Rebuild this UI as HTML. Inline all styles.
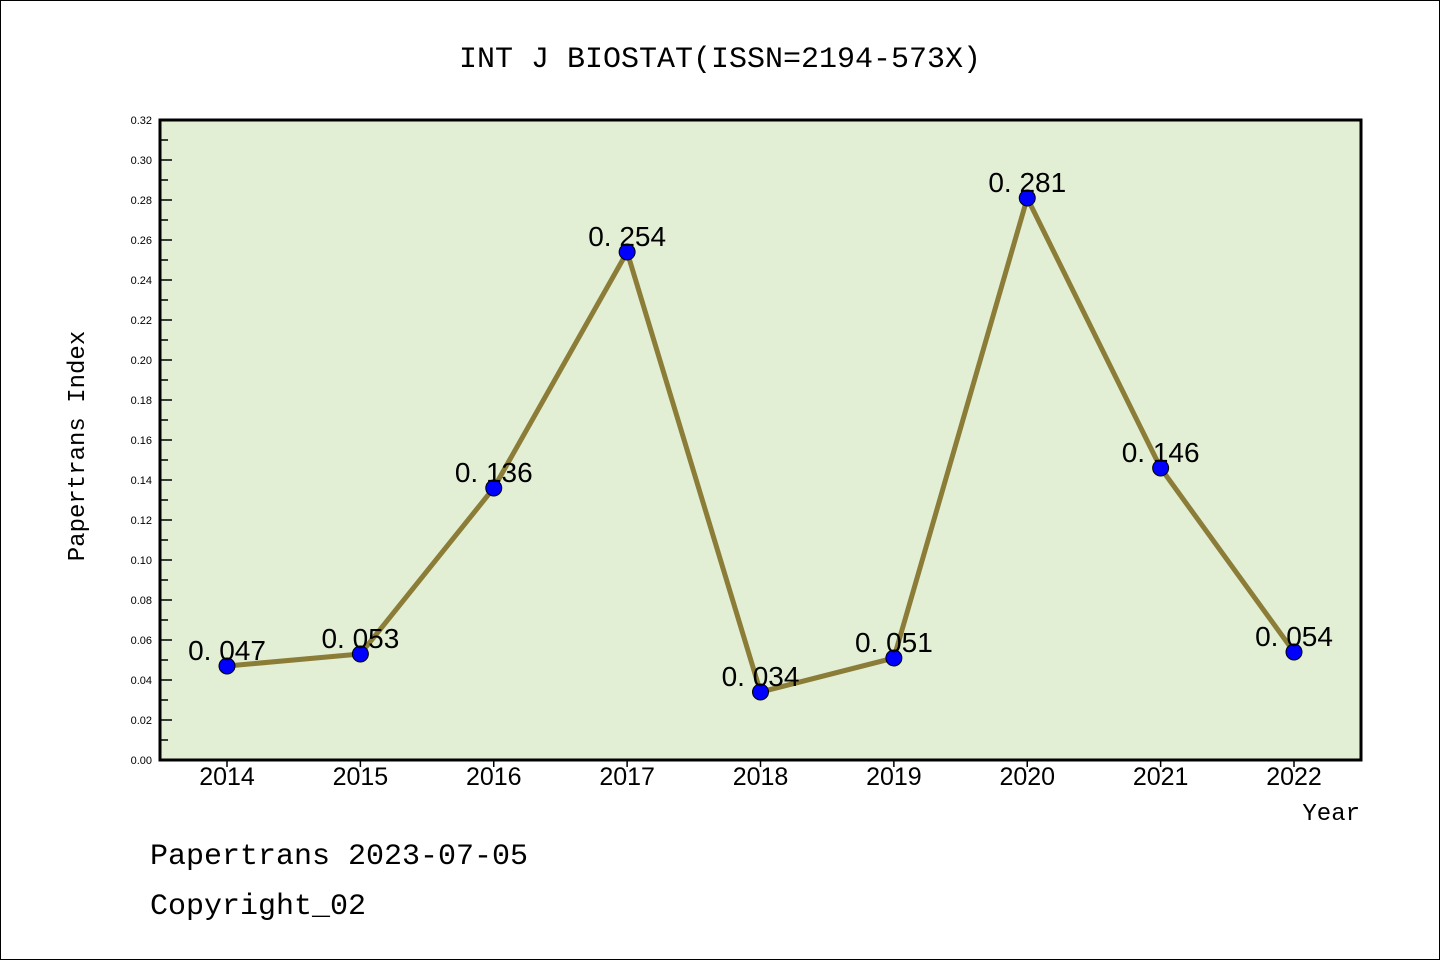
<!DOCTYPE html>
<html><head><meta charset="utf-8"><style>
body{margin:0;background:#fff}
svg{display:block}
text{font-family:"Liberation Mono","DejaVu Sans Mono",monospace}
</style></head><body>
<svg id="chart" width="1440" height="960">
<rect x="0.5" y="0.5" width="1439" height="959" fill="#fff" stroke="#000"/>
<text x="720" y="67" font-size="30" text-anchor="middle">INT J BIOSTAT(ISSN=2194-573X)</text>
<rect x="160" y="120" width="1201" height="640" fill="#e2efd5"/>
<g id="yaxis"></g>
<g id="xaxis"></g>
<g id="series"></g>
<rect x="160" y="120" width="1201" height="640" fill="none" stroke="#000" stroke-width="3"/>
<text transform="translate(84,446) rotate(-90)" font-size="24" text-anchor="middle">Papertrans Index</text>
<text x="1360" y="820" font-size="24" text-anchor="end">Year</text>
<text x="150" y="864" font-size="30">Papertrans 2023-07-05</text>
<text x="150" y="914" font-size="30">Copyright_02</text>
</svg>
<script>
const years=["2014","2015","2016","2017","2018","2019","2020","2021","2022"];
const values=[0.047,0.053,0.136,0.254,0.034,0.051,0.281,0.146,0.054];
const valueLabels=["0.047","0.053","0.136","0.254","0.034","0.051","0.281","0.146","0.054"];
const yTicks=[0,0.02,0.04,0.06,0.08,0.10,0.12,0.14,0.16,0.18,0.20,0.22,0.24,0.26,0.28,0.30,0.32];
const NS="http://www.w3.org/2000/svg";
const y=v=>760-v/0.32*640;
const x=i=>227+i*(1294-227)/(years.length-1);
function mk(t,a,p){const e=document.createElementNS(NS,t);for(const k in a)e.setAttribute(k,a[k]);p.appendChild(e);return e;}
const ya=document.getElementById('yaxis');
yTicks.forEach((v,i)=>{
  const l=mk('line',{x1:160,x2:172,y1:y(v),y2:y(v),stroke:'#000','stroke-width':1.5},ya);
  
  
  const t=mk('text',{x:152,y:y(v)+4,'font-size':11,'text-anchor':'end'},ya);
  
  
  t.style.fontFamily='"Liberation Sans",sans-serif';
  t.textContent=v.toFixed(2);
  if(i<yTicks.length-1){
    const m=mk('line',{x1:160,x2:168,y1:y(v+0.01),y2:y(v+0.01),stroke:'#000','stroke-width':1.5},ya);
    
    
  }
});
const xa=document.getElementById('xaxis');
years.forEach((yr,i)=>{
  const l=mk('line',{x1:x(i),x2:x(i),y1:760,y2:767,stroke:'#000','stroke-width':1.5},xa);
  
  
  const t=mk('text',{x:x(i),y:785,'font-size':25,'text-anchor':'middle'},xa);
  
  
  t.style.fontFamily='"Liberation Sans",sans-serif';
  t.textContent=yr;
});
const s=document.getElementById('series');
const pl=mk('polyline',{points:values.map((v,i)=>x(i)+','+y(v)).join(' '),fill:'none',stroke:'#8b7d37','stroke-width':5},s);


values.forEach((v,i)=>{
  const c=mk('circle',{cx:x(i),cy:y(v),r:8,fill:'#0000ff',stroke:'#000','stroke-width':1},s);
  
  
  const t=mk('text',{x:x(i),y:y(v)-6,'font-size':28,'text-anchor':'middle'},s);
  
  
  t.style.fontFamily='"Liberation Sans",sans-serif';
  t.textContent=valueLabels[i].replace('.','. ');
});
</script>
</body></html>
